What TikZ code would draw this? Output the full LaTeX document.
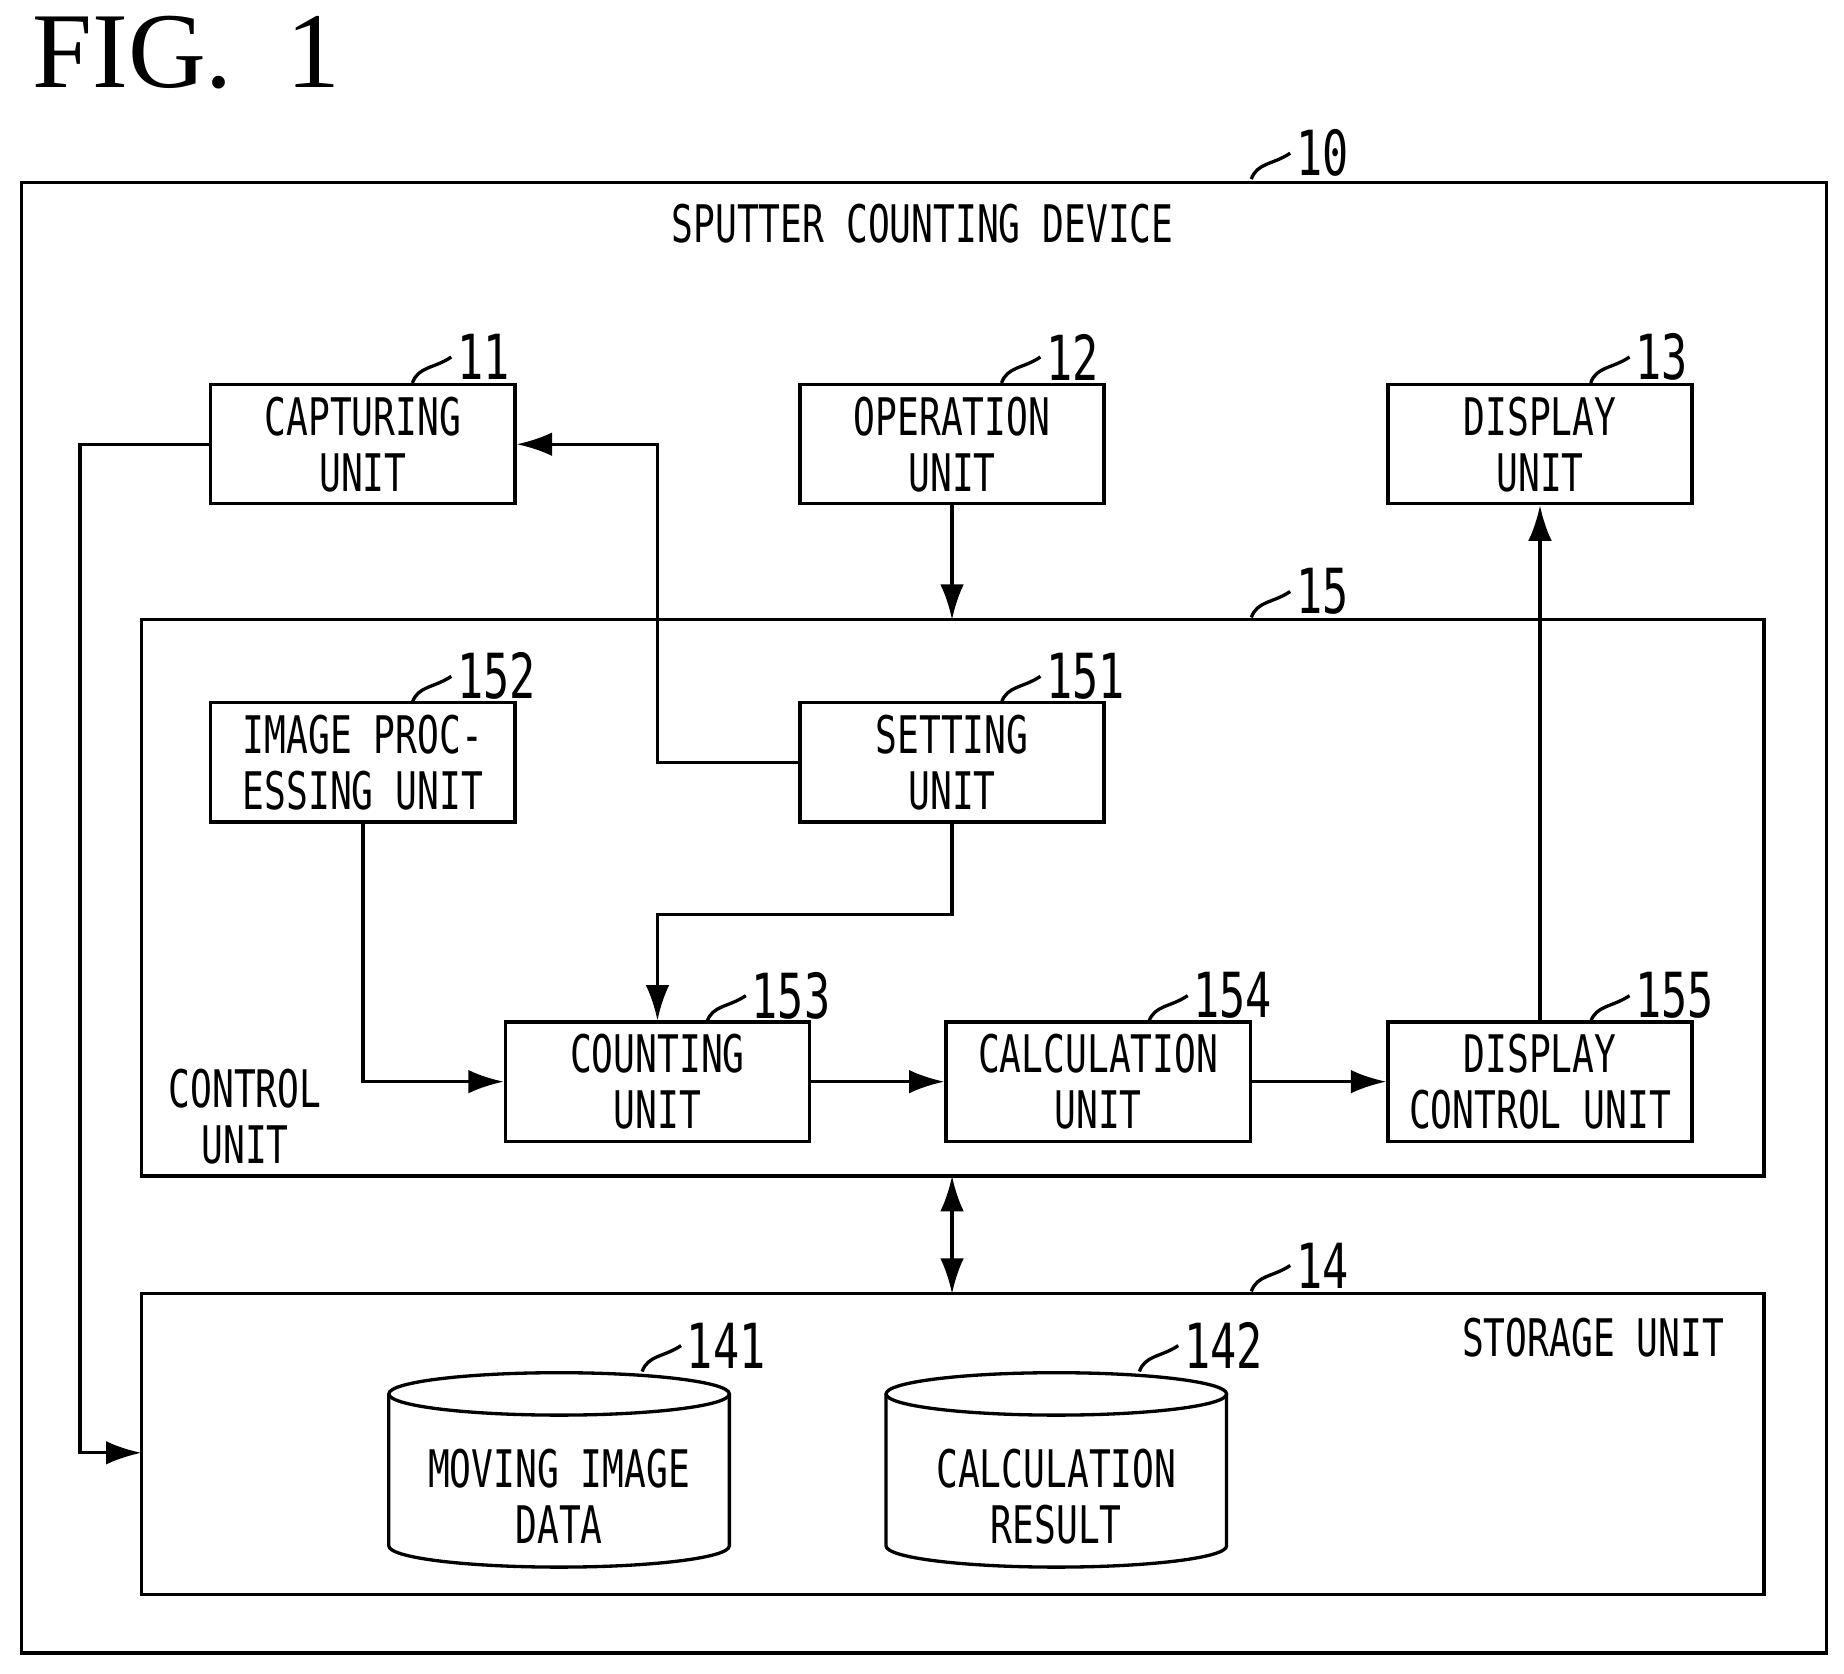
\documentclass[tikz,border=0pt]{standalone}
\usepackage{fontspec}
\setmainfont{DejaVu Sans Mono}[FakeStretch=0.7]
\newfontfamily\figfont{Liberation Serif}
\usetikzlibrary{arrows.meta}
\tikzset{
	blk/.style = {draw, thick, minimum width=2.58cm, minimum height=1.01cm, align=center, inner sep=0pt, font=\fontsize{12.5}{13.5}\selectfont},
	arrow/.style = {thick, -{Latex[length=3mm, width=2mm]}},
	line/.style = {thick},
	num/.style = {right, inner sep=1pt, font=\fontsize{15}{15}\selectfont},
}
% leader curve with a reference numeral
\newcommand{\refnum}[3]{%
	\draw[thick] (#1,#2) .. controls (#1+5,#2-14) and (#1+18,#2-12) .. (#1+33,#2-22) node[num] {#3};}

\begin{document}
\begin{tikzpicture}[x=0.01cm, y=-0.01cm]
	\useasboundingbox (0,0) rectangle (1565,1420);
	\node[font=\figfont\fontsize{26}{26}\selectfont, anchor=west] at (15,45) {FIG.\ \ 1};

	% device frame
	\draw[thick] (18,155) rectangle (1550,1403);
	\refnum{1062}{152}{10}
	\node[font=\fontsize{12.5}{13.5}\selectfont] at (783,190) {SPUTTER COUNTING DEVICE};

	% top row
	\node[blk] (capture) at (308,377) {CAPTURING\\UNIT};
	\node[blk] (operation) at (808,377) {OPERATION\\UNIT};
	\node[blk] (display) at (1307,377) {DISPLAY\\UNIT};
	\refnum{350}{325}{11}
	\refnum{850}{325}{12}
	\refnum{1350}{325}{13}

	% control unit
	\draw[thick] (120,526) rectangle (1497,998);
	\coordinate (ctrltop) at (808,526);
	\coordinate (ctrlbot) at (808,998);
	\refnum{1062}{524}{15}
	\node[font=\fontsize{12.5}{13.5}\selectfont, align=center] at (208,948) {CONTROL\\UNIT};
	\node[blk] (imgproc) at (308,647) {IMAGE PROC-\\ESSING UNIT};
	\node[blk] (setting) at (808,647) {SETTING\\UNIT};
	\node[blk] (counting) at (558,918) {COUNTING\\UNIT};
	\node[blk] (calc) at (932,918) {CALCULATION\\UNIT};
	\node[blk] (dispctrl) at (1307,918) {DISPLAY\\CONTROL UNIT};
	\refnum{350}{596}{152}
	\refnum{850}{596}{151}
	\refnum{600}{867}{153}
	\refnum{975}{867}{154}
	\refnum{1350}{867}{155}

	% storage unit
	\draw[thick] (120,1098) rectangle (1497,1353);
	\coordinate (stortop) at (808,1098);
	\coordinate (storin) at (120,1233);
	\refnum{1062}{1096}{14}
	\node[font=\fontsize{12.5}{13.5}\selectfont] at (1352,1135) {STORAGE UNIT};
	\foreach \cx/\txt in {474.5/{MOVING IMAGE\\DATA}, 896.5/{CALCULATION\\RESULT}} {
		\draw[thick] (\cx-144.5,1183) -- (\cx-144.5,1312) arc[start angle=180, end angle=0, x radius=144.5, y radius=18] -- (\cx+144.5,1183);
		\draw[thick] (\cx,1183) ellipse[x radius=144.5, y radius=18];
		\node[font=\fontsize{12.5}{13.5}\selectfont, align=center] at (\cx,1270) {\txt};
	}
	\refnum{545}{1164}{141}
	\refnum{967}{1164}{142}

	% connections
	\draw[arrow] (capture.west) -- (68,377) |- (storin);
	\draw[arrow] (setting.west) -- (558,647) |- (capture.east);
	\draw[arrow] (operation.south) -- (ctrltop);
	\draw[arrow] (setting.south) |- (558,776) -- (counting.north);
	\draw[arrow] (imgproc.south) |- (counting.west);
	\draw[arrow] (counting) -- (calc);
	\draw[arrow] (calc) -- (dispctrl);
	\draw[arrow] (dispctrl.north) -- (display.south);
	\draw[thick, {Latex[length=3mm, width=2mm]}-{Latex[length=3mm, width=2mm]}] (ctrlbot) -- (stortop);
\end{tikzpicture}
\end{document}
